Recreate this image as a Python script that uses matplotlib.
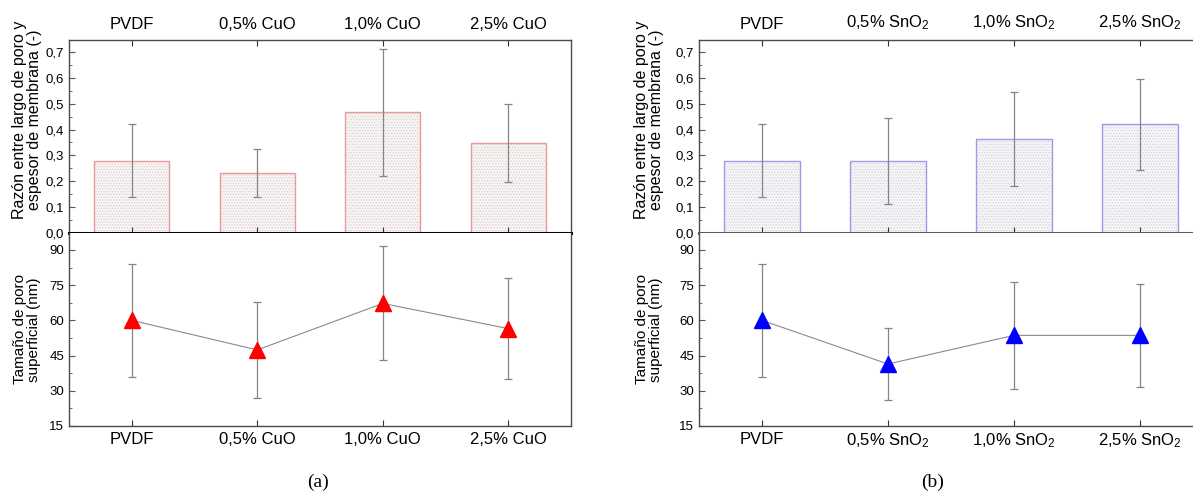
import matplotlib
matplotlib.use("Agg")
import matplotlib.pyplot as plt
from matplotlib.ticker import MultipleLocator, FuncFormatter
import numpy as np

plt.rcParams['font.family'] = ['Liberation Sans', 'DejaVu Sans']
plt.rcParams['mathtext.default'] = 'regular'
plt.rcParams['hatch.linewidth'] = 0.6

# ---------------- data ----------------
cats_cuo = ['PVDF', '0,5% CuO', '1,0% CuO', '2,5% CuO']
cats_sno2 = ['PVDF', '0,5% SnO$_2$', '1,0% SnO$_2$', '2,5% SnO$_2$']

ratio_cuo = [0.280, 0.233, 0.466, 0.349]
ratio_cuo_err = [0.142, 0.093, 0.245, 0.151]
pore_cuo = [60.0, 47.4, 67.2, 56.5]
pore_cuo_err = [24.2, 20.6, 24.3, 21.6]

ratio_sno2 = [0.280, 0.280, 0.363, 0.420]
ratio_sno2_err = [0.142, 0.166, 0.183, 0.176]
pore_sno2 = [60.0, 41.4, 53.6, 53.6]
pore_sno2_err = [24.0, 15.4, 22.8, 22.0]

ylabel_top = 'Razón entre largo de poro y\nespesor de membrana (-)'
ylabel_bot = 'Tamaño de poro\nsuperficial (nm)'

fig = plt.figure(figsize=(11.93, 4.95), dpi=100)

comma = FuncFormatter(lambda v, p: f"{v:.1f}".replace('.', ','))
intfmt = FuncFormatter(lambda v, p: f"{v:.0f}")


def panel(x0, width, cats, ratio, ratio_err, pore, pore_err, edge, face, hatch_c,
          mcolor, divider_color, label_x):
    x = np.arange(1, len(cats) + 1)
    spine_c = '#4a4a4a'
    axt = fig.add_axes([x0, 0.5293, width, 0.3899])
    axb = fig.add_axes([x0, 0.1394, width, 0.3899])

    # ---- top: bars ----
    axt.bar(x, ratio, width=0.6, color=face, edgecolor=hatch_c,
            linewidth=0, hatch='......', zorder=1)
    axt.bar(x, ratio, width=0.6, fill=False, edgecolor=edge, linewidth=1.0, zorder=2)
    axt.errorbar(x, ratio, yerr=ratio_err, fmt='none', ecolor='#858585',
                 elinewidth=0.9, capsize=3, capthick=0.9, zorder=3)
    axt.set_xlim(0.5, 4.5)
    axt.set_ylim(0, 0.746)
    axt.yaxis.set_major_locator(MultipleLocator(0.1))
    axt.yaxis.set_minor_locator(MultipleLocator(0.05))
    axt.yaxis.set_major_formatter(comma)
    axt.set_xticks(x)
    axt.set_xticklabels(cats, fontsize=12)
    axt.tick_params(axis='x', which='both', top=True, bottom=True, labeltop=True,
                    labelbottom=False, direction='in', length=4, pad=6, color='#333333')
    axt.tick_params(axis='x', which='minor', top=False, bottom=False)
    axt.tick_params(axis='y', which='major', direction='in', length=4, labelsize=9.5,
                    pad=3.5, color='#555555')
    axt.tick_params(axis='y', which='minor', direction='in', length=2.5, color='#555555')
    for s in ['left', 'right', 'top']:
        axt.spines[s].set_color(spine_c)
        axt.spines[s].set_linewidth(1.0)
    axt.spines['bottom'].set_color(divider_color)
    axt.spines['bottom'].set_linewidth(2.2)
    axt.spines['bottom'].set_zorder(5)
    axt.set_ylabel(ylabel_top, fontsize=11.5, va='center', linespacing=1.0)
    axt.yaxis.set_label_coords(label_x, 0.585)

    # ---- bottom: points ----
    axb.plot(x, pore, color='#8a8a8a', linewidth=0.8, zorder=2)
    axb.errorbar(x, pore, yerr=pore_err, fmt='none', ecolor='#858585',
                 elinewidth=0.9, capsize=3, capthick=0.9, zorder=3)
    axb.plot(x, pore, linestyle='none', marker='^', markersize=11,
             color=mcolor, markeredgecolor=mcolor, zorder=4)
    axb.set_xlim(0.5, 4.5)
    axb.set_ylim(15, 97.2)
    axb.yaxis.set_major_locator(MultipleLocator(15))
    axb.yaxis.set_minor_locator(MultipleLocator(7.5))
    axb.yaxis.set_major_formatter(intfmt)
    axb.set_xticks(x)
    axb.set_xticklabels(cats, fontsize=12)
    axb.tick_params(axis='x', which='both', top=False, bottom=True, direction='in',
                    length=4, pad=4, color='#333333')
    axb.tick_params(axis='x', which='minor', bottom=False)
    axb.tick_params(axis='y', which='major', direction='in', length=4, labelsize=9.5,
                    pad=3.5, color='#555555')
    axb.tick_params(axis='y', which='minor', direction='in', length=2.5, color='#555555')
    for s in ['left', 'right', 'bottom']:
        axb.spines[s].set_color(spine_c)
        axb.spines[s].set_linewidth(1.0)
    axb.spines['top'].set_visible(False)
    axb.set_ylabel(ylabel_bot, fontsize=11, va='center', linespacing=1.0)
    axb.yaxis.set_label_coords(label_x, 0.5)
    return axt, axb


panel(69 / 1193, 502 / 1193, cats_cuo, ratio_cuo, ratio_cuo_err, pore_cuo, pore_cuo_err,
      edge='#e89a9a', face='#f9f5f5', hatch_c='#d9cfcf', mcolor='#ff0000',
      divider_color='#000000', label_x=-0.084)
panel(699 / 1193, 504 / 1193, cats_sno2, ratio_sno2, ratio_sno2_err, pore_sno2, pore_sno2_err,
      edge='#9a9ae8', face='#f6f6f8', hatch_c='#d3d3da', mcolor='#0000ff',
      divider_color='#5a5a5a', label_x=-0.099)

fig.text(318 / 1193, 1 - 482 / 495, '(a)', family='Liberation Serif', fontsize=14,
         ha='center', va='center')
fig.text(933 / 1193, 1 - 482 / 495, '(b)', family='Liberation Serif', fontsize=14,
         ha='center', va='center')

fig.savefig('out.png', dpi=100)
